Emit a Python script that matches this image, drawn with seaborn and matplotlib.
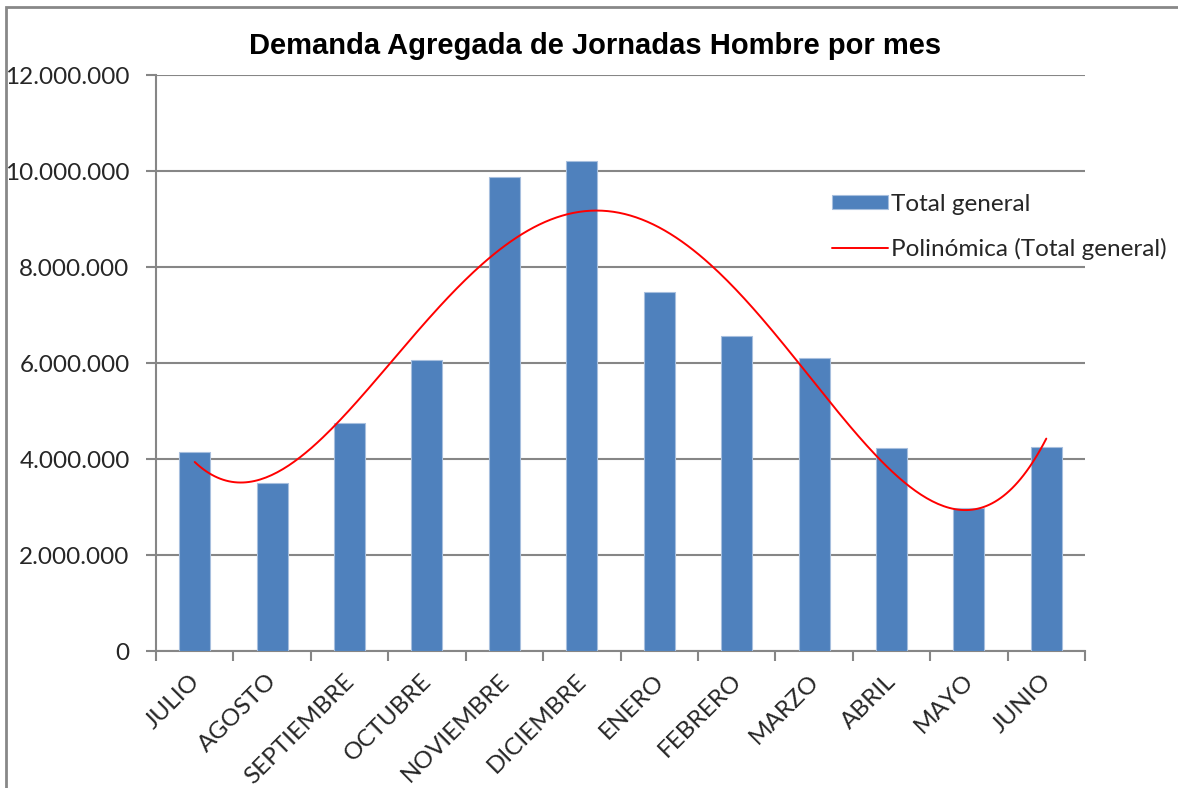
import numpy as np
import pandas as pd
import matplotlib
matplotlib.use("Agg")
import matplotlib.pyplot as plt
import matplotlib.transforms as mtransforms
import seaborn as sns
from matplotlib.patches import Rectangle
from matplotlib.ticker import FuncFormatter, MultipleLocator

meses = ["JULIO", "AGOSTO", "SEPTIEMBRE", "OCTUBRE", "NOVIEMBRE", "DICIEMBRE",
         "ENERO", "FEBRERO", "MARZO", "ABRIL", "MAYO", "JUNIO"]
total = [4150000, 3490000, 4760000, 6060000, 9880000, 10210000,
         7480000, 6570000, 6100000, 4230000, 2980000, 4250000]
grado_tendencia = 4

sns.set_style("white")
plt.rcParams["font.family"] = ["Lato", "DejaVu Sans"]

df = pd.DataFrame({"mes": meses, "total": total})

fig = plt.figure(figsize=(11.78, 7.88), dpi=100)
ax = fig.add_axes([156 / 1178, 1 - 651 / 788, (1085 - 156) / 1178, (651 - 75) / 788])

sns.barplot(data=df, x="mes", y="total", color="#4F81BD", saturation=1,
            width=0.4, ax=ax, label="Total general", zorder=3,
            edgecolor="#A7BFDE", linewidth=0.8)

# polynomial trend (as Excel does, x = 1..12)
xs = np.arange(1, len(total) + 1)
coef = np.polyfit(xs, total, grado_tendencia)
xd = np.linspace(1, len(total), 300)
ax.plot(xd - 1, np.polyval(coef, xd), color="#FF0000", lw=1.4, zorder=4,
        label="Polinómica (Total general)")

ax.set_xlim(-0.5, len(meses) - 0.5)
ax.set_ylim(0, 12000000)
ax.yaxis.set_major_locator(MultipleLocator(2000000))
ax.yaxis.set_major_formatter(FuncFormatter(lambda v, p: f"{int(v):,}".replace(",", ".")))
ax.grid(axis="y", color="#868686", lw=1.5, zorder=0)
ax.set_axisbelow(True)
ax.set_xlabel("")
ax.set_ylabel("")

for s in ["top", "right"]:
    ax.spines[s].set_visible(False)
for s in ["left", "bottom"]:
    ax.spines[s].set_color("#868686")
    ax.spines[s].set_linewidth(1.5)

ax.set_xticks(np.arange(len(meses)))
ax.set_xticklabels(meses, rotation=45, ha="right", rotation_mode="anchor", fontsize=17.5)
ax.tick_params(axis="x", length=0, pad=14)
ax.set_xticks(np.arange(len(meses) + 1) - 0.5, minor=True)
ax.tick_params(axis="x", which="minor", length=7, width=1.5, color="#868686", direction="out")
ax.tick_params(axis="y", length=7, width=1.5, color="#868686", direction="out",
               labelsize=17.5, pad=12)
ax.tick_params(axis="both", left=True, bottom=False)
ax.tick_params(axis="x", which="minor", bottom=True)

desplaza = mtransforms.ScaledTranslation(-6 / 100, 0, fig.dpi_scale_trans)
for lbl in ax.get_xticklabels():
    lbl.set_transform(lbl.get_transform() + desplaza)

fig.text(595 / 1178, 1 - 46 / 788, "Demanda Agregada de Jornadas Hombre por mes",
         ha="center", va="center", fontsize=21, fontweight="bold", color="black",
         family=["Liberation Sans", "DejaVu Sans"])

handles, labels = ax.get_legend_handles_labels()
orden = [labels.index("Total general"), labels.index("Polinómica (Total general)")]
ax.legend([handles[i] for i in orden], [labels[i] for i in orden],
          loc="upper left", bbox_to_anchor=(822 / 1178, 1 - 184 / 788),
          bbox_transform=fig.transFigure, frameon=False, fontsize=17.5,
          handlelength=2.3, handleheight=0.55, handletextpad=0.15, labelspacing=0.95,
          borderaxespad=0)

fig.patches.append(Rectangle((6 / 1178, -0.1), 1.2, 1 - 7 / 788 + 0.1,
                             transform=fig.transFigure, fill=False,
                             edgecolor="#888888", lw=2))

fig.savefig("out.png", dpi=100)
